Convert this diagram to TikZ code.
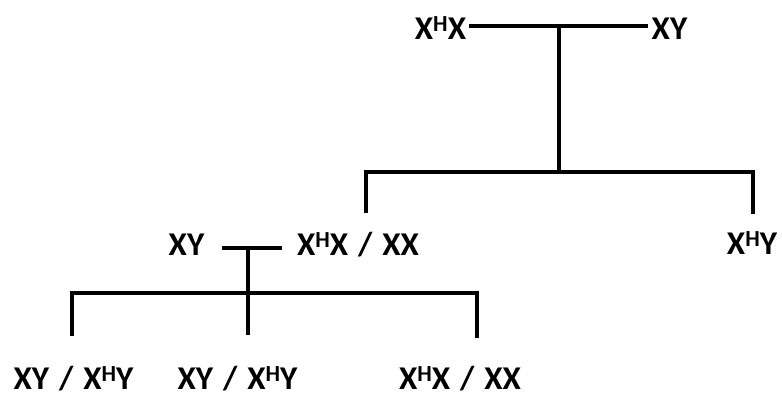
\documentclass[tikz,border=0pt]{standalone}
\usepackage{fontspec}
\setmainfont{Carlito}
\newcommand{\sH}{\raisebox{3.6pt}{\fontsize{11.5}{11.5}\selectfont H}}
\newcommand{\sep}{\hspace{0.3em}/\hspace{0.3em}}
\begin{document}
\begin{tikzpicture}[x=0.5pt, y=-0.5pt,
geno/.style = {anchor = base, inner sep = 1.5pt, font = \fontsize{16.6}{19}\selectfont\bfseries},
link/.style = {line width = 1.8pt}]

\useasboundingbox (0,0) rectangle (782,397);

% parents
\node[geno] (p-1) at (440.5, 39) {X\sH X};
\node[geno] (p-2) at (669.5, 39) {XY};

% first generation
\node[geno] (f-1) at (358, 255) {X\sH X\sep XX};
\node[geno] (f-2) at (752, 254) {X\sH Y};
\node[geno] (m) at (186.5, 255) {XY};

% second generation
\node[geno] (c-1) at (73.5, 389) {XY\sep X\sH Y};
\node[geno] (c-2) at (237.5, 389) {XY\sep X\sH Y};
\node[geno] (c-3) at (460, 389) {X\sH X\sep XX};

% junctions
\coordinate (top) at (559, 26);
\coordinate (j1) at (559, 172);
\coordinate (d-1) at (366, 213);
\coordinate (d-2) at (753, 214);
\coordinate (mid) at (248, 248);
\coordinate (j2) at (248, 293);
\coordinate (e-1) at (72, 336);
\coordinate (e-2) at (248, 335);
\coordinate (e-3) at (477, 338);

% connect
\draw[link] (p-1.east |- top) -- (p-2.west |- top);
\draw[link] (top) -- (j1);
\draw[link] (d-1) |- (j1) -| (d-2);
\draw[link] ([xshift=7pt]m.east |- mid) -- ([xshift=-6pt]f-1.west |- mid);
\draw[link] (mid) -- (e-2);
\draw[link] (e-1) |- (j2) -| (e-3);

\end{tikzpicture}
\end{document}
